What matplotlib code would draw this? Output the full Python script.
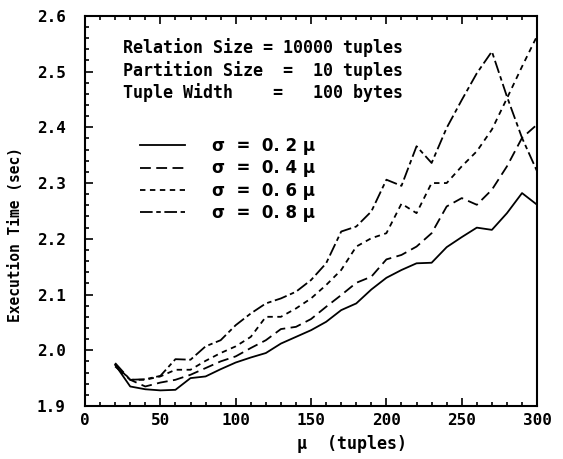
import matplotlib
matplotlib.use("Agg")
import matplotlib.pyplot as plt
from matplotlib.ticker import MultipleLocator, FormatStrFormatter

# mean partition size (tuples)
mu = [20, 30, 40, 50, 60, 70, 80, 90, 100, 110, 120, 130, 140, 150, 160,
      170, 180, 190, 200, 210, 220, 230, 240, 250, 260, 270, 280, 290, 300]

# execution time (sec) for each sigma
t_02 = [1.974, 1.935, 1.930, 1.928, 1.929, 1.950, 1.953, 1.966, 1.978, 1.987,
        1.995, 2.012, 2.024, 2.036, 2.051, 2.072, 2.084, 2.109, 2.130, 2.144,
        2.156, 2.157, 2.185, 2.203, 2.220, 2.216, 2.246, 2.282, 2.261]
t_04 = [1.971, 1.947, 1.935, 1.942, 1.947, 1.956, 1.968, 1.980, 1.989, 2.004,
        2.018, 2.038, 2.042, 2.056, 2.078, 2.099, 2.121, 2.132, 2.163, 2.171,
        2.186, 2.210, 2.258, 2.273, 2.261, 2.288, 2.330, 2.381, 2.405]
t_06 = [1.974, 1.947, 1.947, 1.953, 1.965, 1.965, 1.981, 1.995, 2.007, 2.024,
        2.060, 2.060, 2.075, 2.093, 2.117, 2.144, 2.186, 2.201, 2.210, 2.263,
        2.246, 2.300, 2.300, 2.330, 2.357, 2.396, 2.452, 2.509, 2.564]
t_08 = [1.977, 1.947, 1.948, 1.954, 1.984, 1.983, 2.007, 2.018, 2.045, 2.066,
        2.084, 2.093, 2.105, 2.126, 2.156, 2.213, 2.222, 2.249, 2.306, 2.295,
        2.366, 2.336, 2.399, 2.449, 2.497, 2.536, 2.455, 2.381, 2.321]

labels = ['σ  =  0. 2 μ', 'σ  =  0. 4 μ', 'σ  =  0. 6 μ', 'σ  =  0. 8 μ']
info = ['Relation Size = 10000 tuples',
        'Partition Size  =  10 tuples',
        'Tuple Width    =   100 bytes']

mono = 'DejaVu Sans Mono'

fig = plt.figure(figsize=(5.63, 4.59), dpi=100)
ax = fig.add_axes([0.151, 0.1155, 0.803, 0.85])

ax.plot(mu, t_02, color='black', lw=1.3, linestyle='-', label=labels[0])
ax.plot(mu, t_04, color='black', lw=1.3, linestyle=(0, (6, 3)), label=labels[1])
ax.plot(mu, t_06, color='black', lw=1.3, linestyle=(0, (3, 2.5)), label=labels[2])
ax.plot(mu, t_08, color='black', lw=1.3, linestyle=(0, (7, 2, 2.5, 2)), label=labels[3])

ax.set_xlim(0, 300)
ax.set_ylim(1.9, 2.6)

for s in ax.spines.values():
    s.set_linewidth(1.5)

ax.xaxis.set_major_locator(MultipleLocator(50))
ax.xaxis.set_minor_locator(MultipleLocator(10))
ax.yaxis.set_major_locator(MultipleLocator(0.1))
ax.yaxis.set_minor_locator(MultipleLocator(0.02))
ax.yaxis.set_major_formatter(FormatStrFormatter('%.1f'))
ax.tick_params(which='both', direction='in', top=True, right=False, width=1.2)
ax.tick_params(which='major', length=6)
ax.tick_params(which='minor', length=3)
ax.tick_params(axis='x', pad=5)
ax.tick_params(axis='y', pad=14)
for lab in ax.get_xticklabels() + ax.get_yticklabels():
    lab.set_fontfamily(mono)
    lab.set_fontweight('bold')
    lab.set_fontsize(11.5)

ax.set_xlabel('μ  (tuples)', fontfamily=mono, fontweight='bold', fontsize=12)
ax.xaxis.set_label_coords(0.59, -0.075)
ax.set_ylabel('Execution Time (sec)', fontfamily=mono, fontweight='bold', fontsize=10.5)
ax.yaxis.set_label_coords(-0.137, 0.44)

for i, line in enumerate(info):
    ax.text(0.084, 0.918 - i * 0.057, line, transform=ax.transAxes,
            fontfamily=mono, fontweight='bold', fontsize=12, va='center', ha='left')

ax.legend(loc='upper left', bbox_to_anchor=(0.104, 0.71), frameon=False,
          handlelength=2.7, handletextpad=1.6, labelspacing=0.25, borderpad=0,
          prop={'family': 'DejaVu Sans', 'weight': 'bold', 'size': 12})

fig.savefig('out.png', dpi=100)
